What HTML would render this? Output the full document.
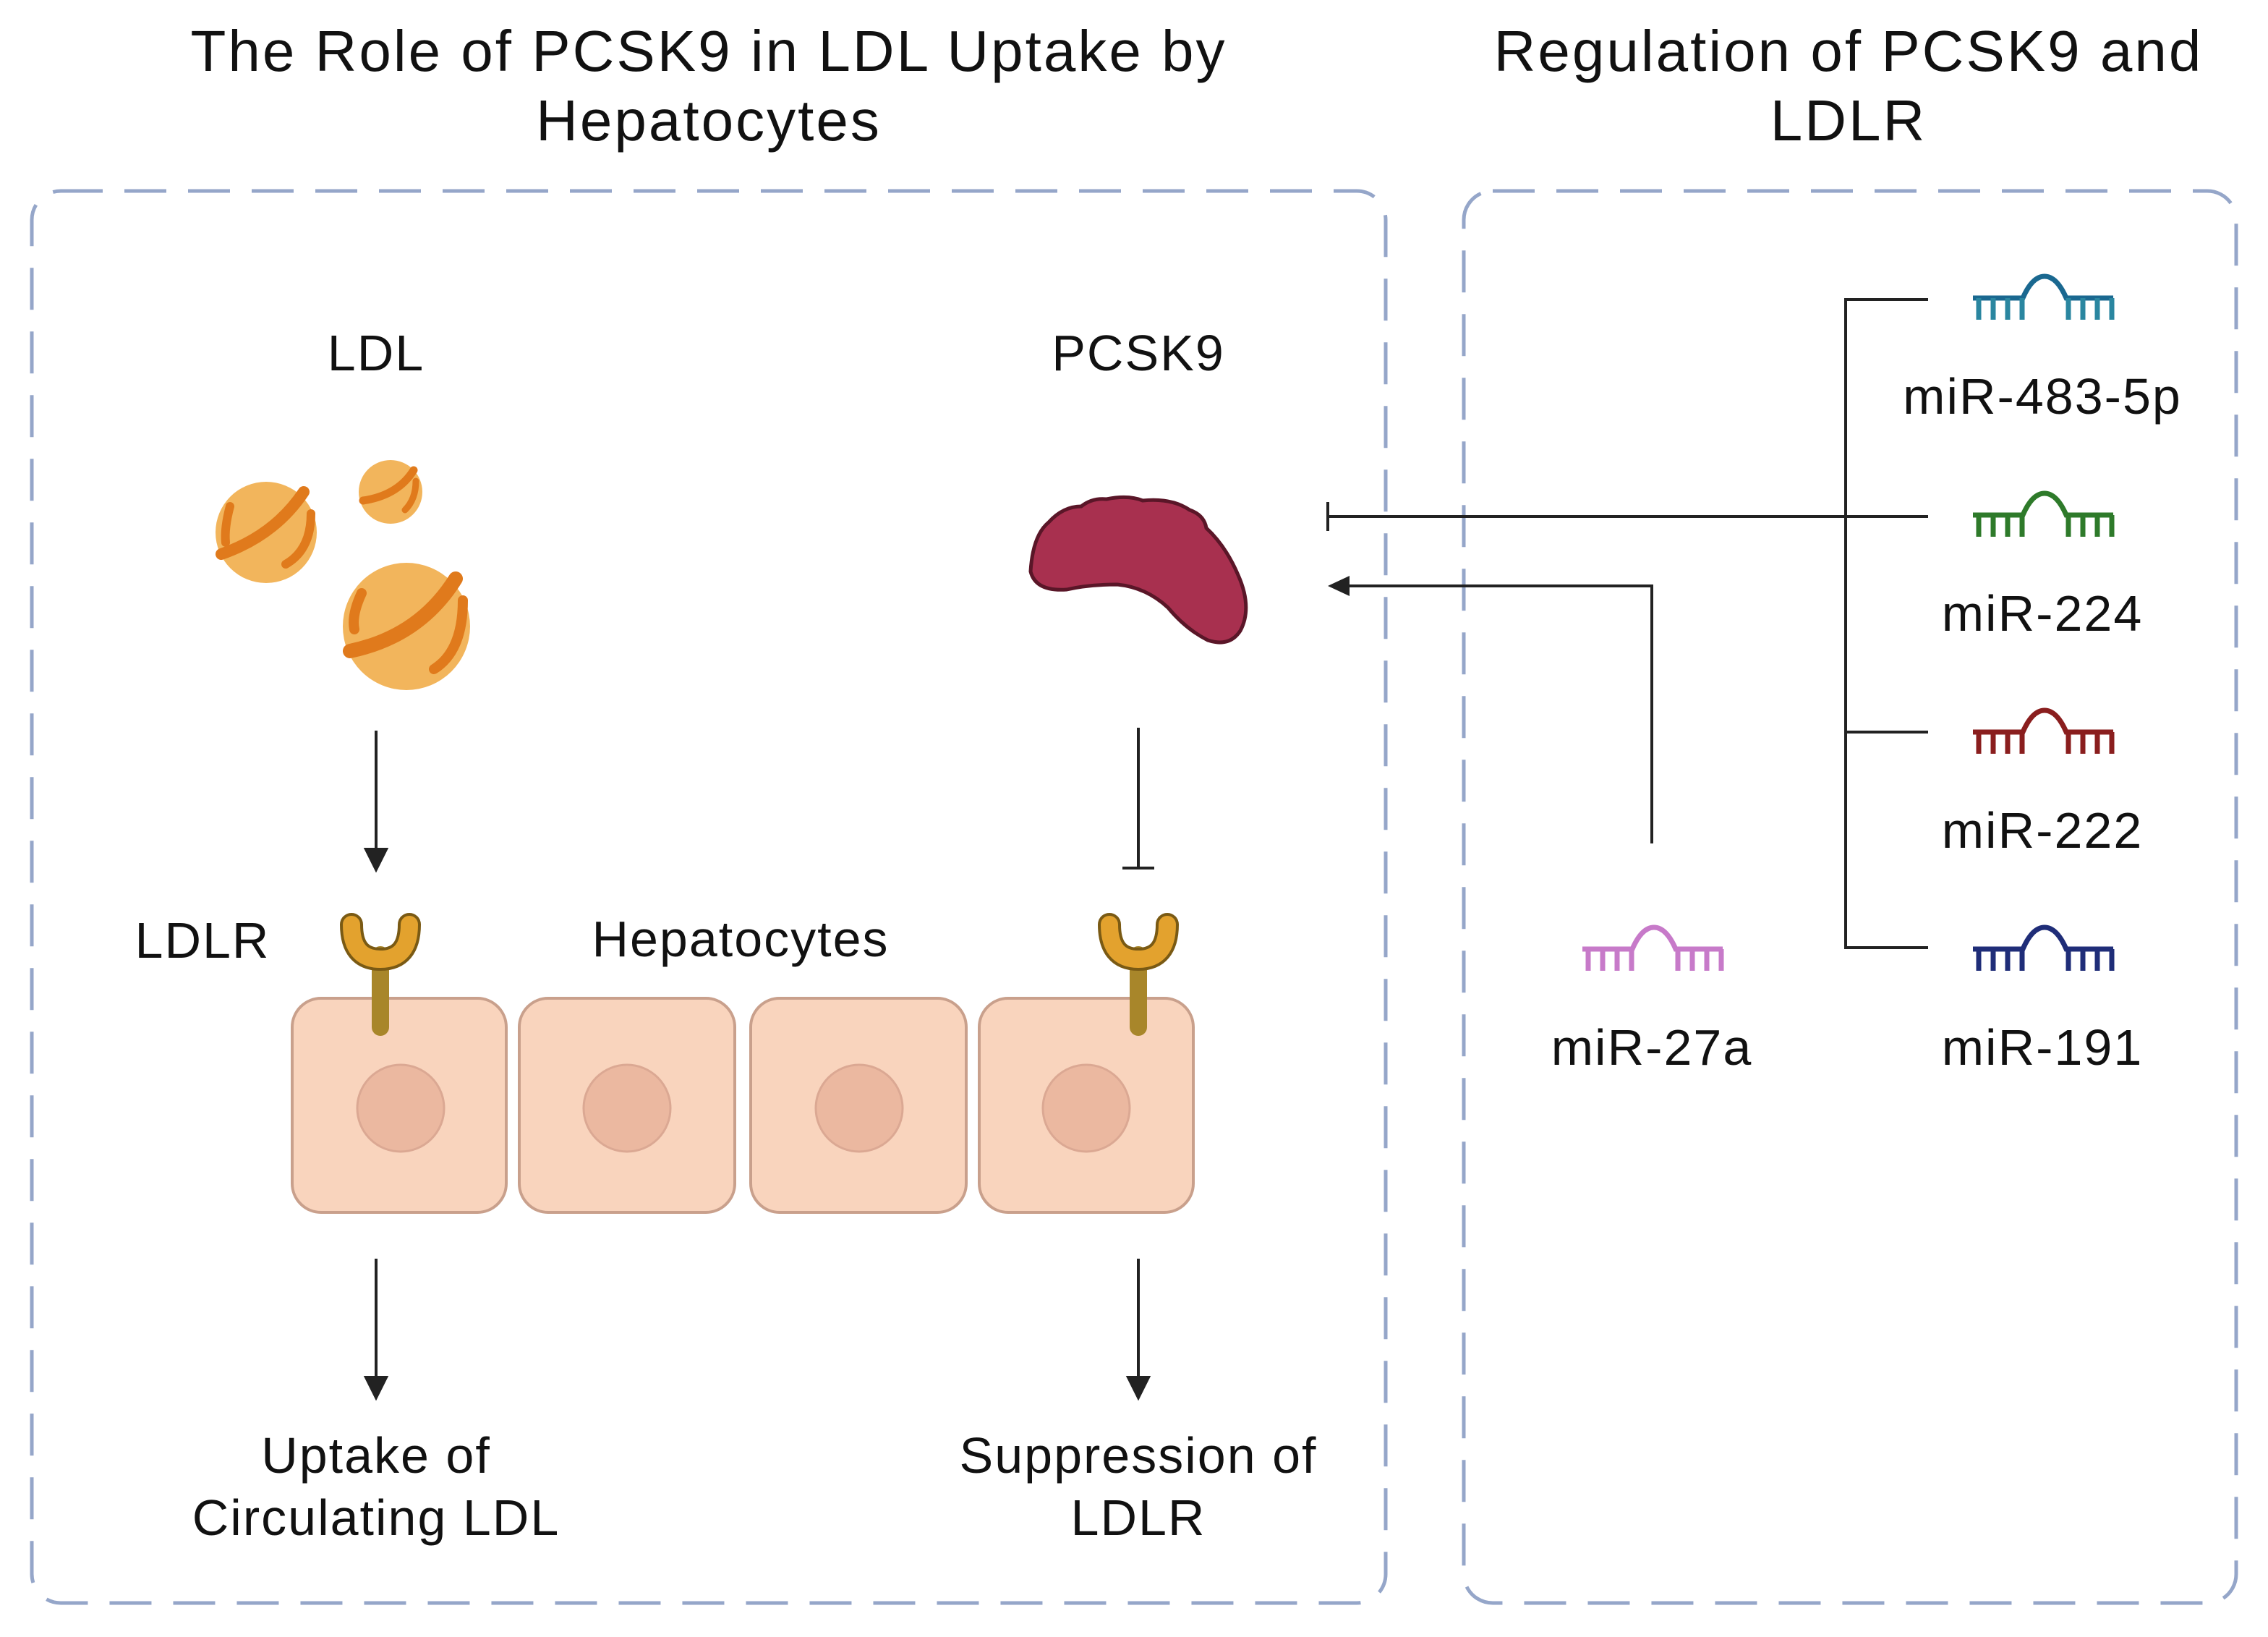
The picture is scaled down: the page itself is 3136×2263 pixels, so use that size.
<!DOCTYPE html>
<html><head><meta charset="utf-8"><style>
html,body{margin:0;padding:0;background:#fff}
svg{display:block}
text{font-family:"Liberation Sans",sans-serif;fill:#111}
</style></head><body>
<svg width="3136" height="2263" viewBox="0 0 3136 2263" xmlns="http://www.w3.org/2000/svg">
<!-- titles -->
<g font-size="80" text-anchor="middle" letter-spacing="3">
<text x="980" y="98">The Role of PCSK9 in LDL Uptake by</text>
<text x="980" y="194">Hepatocytes</text>
<text x="2556" y="98">Regulation of PCSK9 and</text>
<text x="2556" y="194">LDLR</text>
</g>
<!-- dashed boxes -->
<g fill="none" stroke="#95a6c9" stroke-width="5" stroke-dasharray="58 30">
<rect x="44" y="264" width="1872" height="1952" rx="40"/>
<rect x="2024" y="264" width="1068" height="1952" rx="40"/>
</g>
<!-- labels -->
<g font-size="70" text-anchor="middle" letter-spacing="2">
<text x="520" y="512">LDL</text>
<text x="1574" y="512">PCSK9</text>
<text x="280" y="1324">LDLR</text>
<text x="1024" y="1322">Hepatocytes</text>
<text x="520" y="2036">Uptake of</text>
<text x="520" y="2122">Circulating LDL</text>
<text x="1574" y="2036">Suppression of</text>
<text x="1574" y="2122">LDLR</text>
<text x="2824" y="572">miR-483-5p</text>
<text x="2824" y="872">miR-224</text>
<text x="2824" y="1172">miR-222</text>
<text x="2824" y="1472">miR-191</text>
<text x="2284" y="1472">miR-27a</text>
</g>
<!-- LDL particles -->
<g>
<circle cx="368" cy="736" r="70" fill="#f2b55c"/>
<path d="M306 766 Q380 740 420 680" stroke="#e07a1c" stroke-width="16" fill="none" stroke-linecap="round"/>
<path d="M318 700 Q310 730 312 750" stroke="#e07a1c" stroke-width="12" fill="none" stroke-linecap="round"/>
<path d="M430 710 Q430 760 395 780" stroke="#e07a1c" stroke-width="12" fill="none" stroke-linecap="round"/>
<circle cx="540" cy="680" r="44" fill="#f2b55c"/>
<path d="M502 692 Q550 685 572 650" stroke="#e07a1c" stroke-width="11" fill="none" stroke-linecap="round"/>
<path d="M575 665 Q575 690 560 705" stroke="#e07a1c" stroke-width="9" fill="none" stroke-linecap="round"/>
<circle cx="562" cy="866" r="88" fill="#f2b55c"/>
<path d="M484 900 Q580 880 630 800" stroke="#e07a1c" stroke-width="20" fill="none" stroke-linecap="round"/>
<path d="M500 820 Q486 850 490 870" stroke="#e07a1c" stroke-width="14" fill="none" stroke-linecap="round"/>
<path d="M640 830 Q640 900 600 925" stroke="#e07a1c" stroke-width="14" fill="none" stroke-linecap="round"/>
</g>
<!-- PCSK9 blob -->
<path d="M1425 790 Q1428 740 1450 722 Q1470 700 1495 700 Q1510 688 1530 690 Q1560 684 1580 692 Q1620 688 1645 705 Q1665 712 1668 730 Q1695 755 1712 795 Q1732 840 1715 872 Q1700 895 1670 885 Q1640 870 1615 840 Q1585 812 1545 808 Q1505 808 1475 815 Q1432 818 1425 790 Z" fill="#a8304f" stroke="#5a1628" stroke-width="5"/>
<!-- arrows left -->
<g stroke="#222" stroke-width="4" fill="#222">
<line x1="520" y1="1010" x2="520" y2="1180"/>
<path d="M506 1174 L534 1174 L520 1202 Z"/>
<line x1="1574" y1="1006" x2="1574" y2="1200"/>
<line x1="1552" y1="1200" x2="1596" y2="1200"/>
<line x1="520" y1="1740" x2="520" y2="1910"/>
<path d="M506 1904 L534 1904 L520 1932 Z"/>
<line x1="1574" y1="1740" x2="1574" y2="1910"/>
<path d="M1560 1904 L1588 1904 L1574 1932 Z"/>
</g>
<!-- cells -->
<g fill="#f9d4bd" stroke="#c9a08c" stroke-width="4">
<rect x="404" y="1380" width="296" height="296" rx="40"/>
<rect x="718" y="1380" width="298" height="296" rx="40"/>
<rect x="1038" y="1380" width="298" height="296" rx="40"/>
<rect x="1354" y="1380" width="296" height="296" rx="40"/>
</g>
<g fill="#ebb8a0" stroke="#dba893" stroke-width="3">
<circle cx="554" cy="1532" r="60"/>
<circle cx="867" cy="1532" r="60"/>
<circle cx="1188" cy="1532" r="60"/>
<circle cx="1502" cy="1532" r="60"/>
</g>
<!-- receptors -->
<g>
<line x1="526" y1="1320" x2="526" y2="1420" stroke="#a8862a" stroke-width="24" stroke-linecap="round"/>
<path d="M486 1278 Q486 1326 526 1326 Q566 1326 566 1278" fill="none" stroke="#7a5a14" stroke-width="32" stroke-linecap="round"/>
<path d="M486 1278 Q486 1326 526 1326 Q566 1326 566 1278" fill="none" stroke="#e3a22e" stroke-width="24" stroke-linecap="round"/>
<line x1="1574" y1="1320" x2="1574" y2="1420" stroke="#a8862a" stroke-width="24" stroke-linecap="round"/>
<path d="M1534 1278 Q1534 1326 1574 1326 Q1614 1326 1614 1278" fill="none" stroke="#7a5a14" stroke-width="32" stroke-linecap="round"/>
<path d="M1534 1278 Q1534 1326 1574 1326 Q1614 1326 1614 1278" fill="none" stroke="#e3a22e" stroke-width="24" stroke-linecap="round"/>
</g>
<!-- right connectors -->
<g stroke="#222" stroke-width="4" fill="none">
<path d="M2666 414 L2552 414 L2552 1310 L2666 1310"/>
<line x1="2552" y1="1012" x2="2666" y2="1012"/>
<line x1="2666" y1="714" x2="1836" y2="714"/>
<line x1="1836" y1="694" x2="1836" y2="734"/>
<path d="M2284 1166 L2284 810 L1862 810"/>
</g>
<path d="M1836 810 L1866 796 L1866 824 Z" fill="#222"/>
<!-- miRNA icons -->
<g fill="none" stroke-width="7">
<g stroke="#1a6890">
<path d="M2728 412 L2797 412 Q2810 382 2827 382 Q2844 382 2857 412 L2922 412"/>
<path d="M2736 412v30M2756 412v30M2776 412v30M2796 412v30M2860 412v30M2880 412v30M2900 412v30M2920 412v30" stroke="#2a86a0"/>
</g>
<g stroke="#2e7a2a">
<path d="M2728 712 L2797 712 Q2810 682 2827 682 Q2844 682 2857 712 L2922 712"/>
<path d="M2736 712v30M2756 712v30M2776 712v30M2796 712v30M2860 712v30M2880 712v30M2900 712v30M2920 712v30"/>
</g>
<g stroke="#8a1e1e">
<path d="M2728 1012 L2797 1012 Q2810 982 2827 982 Q2844 982 2857 1012 L2922 1012"/>
<path d="M2736 1012v30M2756 1012v30M2776 1012v30M2796 1012v30M2860 1012v30M2880 1012v30M2900 1012v30M2920 1012v30"/>
</g>
<g stroke="#1f2d78">
<path d="M2728 1312 L2797 1312 Q2810 1282 2827 1282 Q2844 1282 2857 1312 L2922 1312"/>
<path d="M2736 1312v30M2756 1312v30M2776 1312v30M2796 1312v30M2860 1312v30M2880 1312v30M2900 1312v30M2920 1312v30"/>
</g>
<g stroke="#c77ac9">
<path d="M2188 1312 L2257 1312 Q2270 1282 2287 1282 Q2304 1282 2317 1312 L2382 1312"/>
<path d="M2196 1312v30M2216 1312v30M2236 1312v30M2256 1312v30M2320 1312v30M2340 1312v30M2360 1312v30M2380 1312v30"/>
</g>
</g>
</svg>
</body></html>
